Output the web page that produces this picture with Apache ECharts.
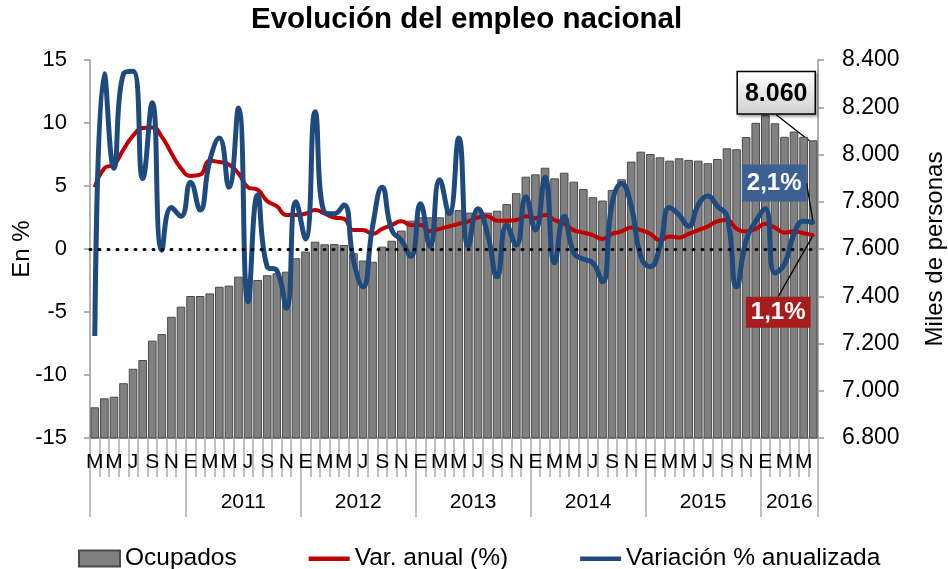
<!DOCTYPE html>
<html>
<head>
<meta charset="utf-8">
<script src="https://cdn.jsdelivr.net/npm/echarts@6/dist/echarts.min.js"></script>
<style>html,body{margin:0;padding:0;background:#fff}#c{width:948px;height:569px}</style>
</head>
<body>
<div id="c"></div>
<script>
// ---- data ----
const monthInitials = ['E','F','M','A','M','J','J','A','S','O','N','D'];
const startYear = 2010;
const startMonth = 2; // March (0-based)
const monthCount = 76;
const categories = [];
for (let i = 0; i < monthCount; i++) {
  const t = startMonth + i;
  categories.push((startYear + Math.floor(t / 12)) + '-' + String(t % 12 + 1).padStart(2, '0'));
}
const ocupados = [
  6930, 6968, 6975, 7032, 7093, 7130, 7212, 7240, 7313, 7356,
  7401, 7401, 7412, 7440, 7445, 7483, 7472, 7469, 7489, 7497, 7504, 7561,
  7589, 7631, 7620, 7621, 7617, 7582, 7551, 7546, 7610, 7635, 7678, 7720,
  7734, 7734, 7734, 7765, 7765, 7754, 7758, 7754, 7762, 7790, 7836, 7906,
  7916, 7944, 7899, 7923, 7885, 7854, 7819, 7805, 7850, 7895, 7970, 8012,
  8002, 7988, 7974, 7984, 7977, 7974, 7963, 7981, 8026, 8022, 8074, 8134,
  8167, 8132, 8075, 8097, 8075, 8060
];
const varAnual = [
  4.9, 6.4, 6.7, 7.9, 9.0, 9.6, 9.65, 8.9, 7.6, 6.4,
  5.8, 5.9, 7.0, 6.9, 6.7, 6.0, 4.9, 4.7, 3.8, 3.4, 2.7, 2.7,
  2.8, 3.1, 2.8, 2.5, 2.4, 1.5, 1.5, 1.2, 1.6, 1.9, 2.2, 1.9,
  1.9, 1.4, 1.6, 1.8, 2.0, 2.2, 2.5, 2.6, 2.25, 2.25, 2.3, 2.6,
  2.45, 2.7, 2.3, 2.0, 1.5, 1.3, 1.1, 0.8, 1.2, 1.4, 1.7, 1.5,
  1.2, 0.7, 1.0, 0.9, 1.2, 1.5, 1.8, 2.2, 2.3, 1.6, 1.4, 1.6,
  2.0, 1.7, 1.3, 1.4, 1.25, 1.1
];
const varAnualizada = [
  -6.9, 13.9, 6.4, 13.9, 14.1, 5.6, 11.6, -0.1, 3.3, 2.6,
  5.3, 3.1, 7.0, 8.8, 4.9, 11.2, -4.2, 4.3, -1.4, -1.7, -4.7, 3.75,
  0.8, 10.9, 2.9, 2.8, 3.5, -0.9, -3.0, 1.8, 4.9, 1.5, 0.7, -0.6,
  3.6, 0.2, 5.5, 2.8, 8.8, 0.2, 3.2, 1.2, -2.2, 1.9, 0.3, 4.15,
  1.5, 5.7, -1.1, 2.6, -0.3, -0.8, -1.1, -2.6, 3.6, 5.2, 3.4, -0.6,
  -1.4, 0.2, 3.3, 2.7, 1.8, 3.5, 4.2, 3.4, 2.6, -3.0, 0.7, 2.2,
  3.2, -1.9, -1.2, 1.2, 2.2, 2.1
];
const leftAxis = { min: -15, max: 15, interval: 5 };
const rightAxis = { min: 6800, max: 8400, interval: 200 };

// ---- helpers ----
const FONT = 'Liberation Sans, Arial, sans-serif';
const monthOf = c => parseInt(c.slice(5), 10) - 1;
const yearOf = c => c.slice(0, 4);
const fmtThousands = v => (v / 1000).toFixed(3);
const fmtPct = v => v.toFixed(1).replace('.', ',') + '%';
const LINE_ICON = 'path://M0,0L0,0M0,6L41,6L41,10.5L0,10.5ZM41,16L41,16';

// year segments
const yearStarts = new Set();
const yearLabelIdx = new Set();
{
  let s = 0;
  for (let i = 1; i <= monthCount; i++) {
    if (i === monthCount || yearOf(categories[i]) !== yearOf(categories[s])) {
      yearStarts.add(s);
      const len = i - s;
      if (monthOf(categories[s]) === 0) yearLabelIdx.add(s + len / 2 - 1);
      s = i;
    }
  }
}

const last = monthCount - 1;
const barData = ocupados.map((v, i) => i === last ? {
  value: v,
  label: {
    show: true, position: 'top', formatter: p => fmtThousands(p.value),
    fontFamily: FONT, fontSize: 25, fontWeight: 'bold', color: '#000',
    backgroundColor: new echarts.graphic.LinearGradient(0, 0, 0, 1, [
      { offset: 0, color: '#ffffff' }, { offset: 1, color: '#d0d0d0' }
    ]),
    borderColor: '#000', borderWidth: 1.5, padding: [9, 7, 7, 7],
    shadowColor: 'rgba(0,0,0,0.35)', shadowBlur: 3, shadowOffsetX: 2, shadowOffsetY: 2
  }
} : v);
const redData = varAnual.map((v, i) => i === last ? {
  value: v, symbol: 'circle', symbolSize: 3,
  label: {
    show: true, position: 'bottom', formatter: p => fmtPct(p.value),
    fontFamily: FONT, fontSize: 24, fontWeight: 'bold', color: '#fff',
    backgroundColor: '#a71d1d', padding: [4, 5, 3, 5]
  }
} : v);
const blueData = varAnualizada.map((v, i) => i === last ? {
  value: v, symbol: 'circle', symbolSize: 4,
  label: {
    show: true, position: 'top', formatter: p => fmtPct(p.value),
    fontFamily: FONT, fontSize: 24, fontWeight: 'bold', color: '#fff',
    backgroundColor: '#3b6091', padding: [7, 5, 6, 5]
  }
} : v);

const chart = echarts.init(document.getElementById('c'), null, { renderer: 'canvas' });
chart.setOption({
  animation: false,
  backgroundColor: '#fff',
  textStyle: { fontFamily: FONT },
  title: {
    text: 'Evolución del empleo nacional', left: 246, top: 0,
    textStyle: { fontFamily: FONT, fontSize: 29.5, fontWeight: 'bold', color: '#000' }
  },
  legend: {
    left: 73, top: 541, itemWidth: 41, itemHeight: 16, itemGap: 72,
    textStyle: { fontFamily: FONT, fontSize: 24.5, color: '#000' },
    data: [
      { name: 'Ocupados', icon: 'rect' },
      { name: 'Var. anual (%)', icon: LINE_ICON },
      { name: 'Variación % anualizada', icon: LINE_ICON }
    ]
  },
  grid: { left: 90, right: 130, top: 60, bottom: 131, outerBoundsMode: 'none', containLabel: false },
  xAxis: [{
    type: 'category', data: categories, position: 'bottom',
    axisLine: { show: true, onZero: false, lineStyle: { color: '#999', width: 1.5 } },
    axisTick: { show: true, interval: 0, length: 39, lineStyle: { color: '#aaa', width: 1.5 } },
    axisLabel: {
      interval: 1, margin: 14, fontSize: 21, color: '#000', fontFamily: FONT,
      formatter: v => monthInitials[monthOf(v)]
    }
  }, {
    type: 'category', data: categories, position: 'bottom',
    axisLine: { show: false, onZero: false },
    axisTick: { show: true, interval: i => yearStarts.has(i), length: 79, lineStyle: { color: '#aaa', width: 1.5 } },
    axisLabel: {
      interval: i => yearLabelIdx.has(i), margin: 54, fontSize: 21, color: '#000', fontFamily: FONT,
      padding: [0, 0, 0, 9.6], formatter: v => yearOf(v)
    }
  }],
  yAxis: [{
    type: 'value', min: leftAxis.min, max: leftAxis.max, interval: leftAxis.interval, position: 'left',
    name: 'En %', nameLocation: 'middle', nameGap: 56, nameRotate: 90, nameMoveOverlap: false,
    nameTextStyle: { fontFamily: FONT, fontSize: 24, color: '#000' },
    axisLine: { show: true, lineStyle: { color: '#999', width: 1.5 } },
    axisTick: { show: true, length: 6, lineStyle: { color: '#999', width: 1.5 } },
    axisLabel: { margin: 23, fontSize: 22, color: '#000', fontFamily: FONT },
    splitLine: { show: false }
  }, {
    type: 'value', min: rightAxis.min, max: rightAxis.max, interval: rightAxis.interval, position: 'right',
    name: 'Miles de personas', nameLocation: 'middle', nameGap: 105, nameRotate: 90, nameMoveOverlap: false,
    nameTextStyle: { fontFamily: FONT, fontSize: 24, color: '#000' },
    axisLine: { show: true, lineStyle: { color: '#999', width: 1.5 } },
    axisTick: { show: true, length: 6, lineStyle: { color: '#999', width: 1.5 } },
    axisLabel: { margin: 24, fontSize: 23, color: '#000', fontFamily: FONT, formatter: fmtThousands },
    splitLine: { show: false }
  }],
  series: [{
    name: 'Ocupados', type: 'bar', xAxisIndex: 0, yAxisIndex: 1, data: barData,
    barCategoryGap: '10%',
    itemStyle: { color: '#808080', borderColor: '#4a4a4a', borderWidth: 1 },
    labelLine: { show: true, lineStyle: { color: '#000', width: 1.3 } },
    labelLayout: { dx: -37, dy: -22 }
  }, {
    name: 'Var. anual (%)', type: 'line', xAxisIndex: 0, yAxisIndex: 0, data: redData,
    smooth: 0.5, symbol: 'none', showAllSymbol: true,
    lineStyle: { color: '#c00000', width: 4 }, itemStyle: { color: '#c00000' },
    labelLine: { show: true, lineStyle: { color: '#000', width: 1.3 } },
    labelLayout: { dx: -35, dy: 55 },
    markLine: {
      silent: true, symbol: 'none', label: { show: false },
      lineStyle: { color: '#000', width: 3, type: [1, 8], cap: 'round' },
      data: [{ yAxis: 0 }]
    }
  }, {
    name: 'Variación % anualizada', type: 'line', xAxisIndex: 0, yAxisIndex: 0, data: blueData,
    smooth: 0.5, symbol: 'none', showAllSymbol: true,
    lineStyle: { color: '#1f4a7e', width: 5 }, itemStyle: { color: '#1f4a7e' },
    labelLine: { show: true, lineStyle: { color: '#000', width: 1.3 } },
    labelLayout: { dx: -39, dy: -14 }
  }]
});
</script>
</body>
</html>
